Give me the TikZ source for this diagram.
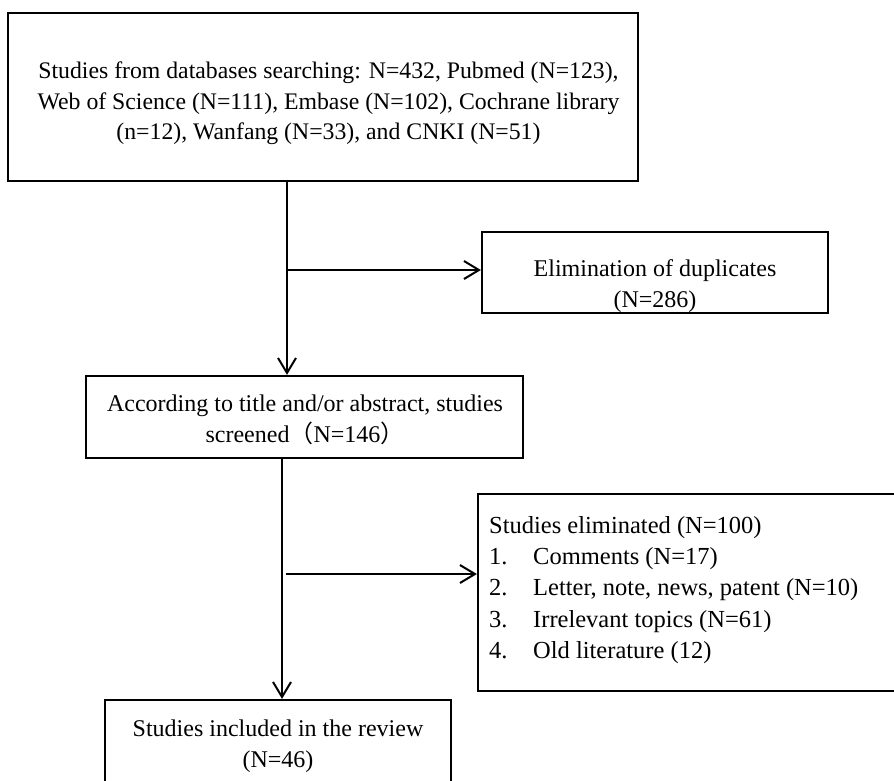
\documentclass[tikz,border=0pt]{standalone}
\usepackage{fontspec}
\setmainfont{Liberation Serif}
\newfontfamily\cjk{Noto Sans CJK SC}
\usetikzlibrary{arrows.meta}
\begin{document}
\begin{tikzpicture}[x=1pt,y=-1pt,
  boxst/.style={draw,line width=2.2pt,inner sep=0pt,minimum width=#1},
  txt/.style={inner sep=0pt,font=\fontsize{24}{30.6}\selectfont},
  arr/.style={line width=2pt,-{Straight Barb[length=15pt,width=18pt,line width=2pt]}},
  ln/.style={line width=2pt}]
\useasboundingbox[fill=white] (0,0) rectangle (894,780);
% boxes
\node[boxst=630pt,minimum height=168pt] (b1) at (323,97) {};
\node[boxst=346pt,minimum height=81pt] (elim) at (655,272.5) {};
\node[boxst=437pt,minimum height=82pt] (b2) at (304.5,417) {};
\node[boxst=418pt,minimum height=197pt] (elimd) at (687,592.5) {};
\node[boxst=346pt,minimum height=95pt] (b3) at (278,747.5) {};
% texts
\node[txt,align=center,font=\fontsize{23.75}{30.5}\selectfont] (t1) at (328.5,103.5) {Studies from databases searching: N=432, Pubmed (N=123),\\Web of Science (N=111), Embase (N=102), Cochrane library\\(n=12), Wanfang (N=33), and CNKI (N=51)};
\node[txt,align=center] (t2) at (655,286) {Elimination of duplicates\\(N=286)};
\node[txt,align=center] (t3) at (305,420) {According to title and/or abstract, studies\\screened{\cjk （}N=146{\cjk ）}};
\node[txt,align=left,anchor=west,font=\fontsize{24.5}{31.3}\selectfont] (t4) at (489,590) {Studies eliminated (N=100)\\
\makebox[44pt][l]{1.}Comments (N=17)\\
\makebox[44pt][l]{2.}Letter, note, news, patent (N=10)\\
\makebox[44pt][l]{3.}Irrelevant topics (N=61)\\
\makebox[44pt][l]{4.}Old literature (12)};
\node[txt,align=center] (t5) at (278,746) {Studies included in the review\\(N=46)};
% connectors
\coordinate (j1) at (287,270);
\coordinate (j2) at (282,574);
\draw[arr] (j1 |- b1.south) -- (j1 |- b2.north);
\draw[arr] (j1) -- (j1 -| elim.west);
\draw[arr] (j2 |- b2.south) -- (j2 |- b3.north);
\draw[arr] ([xshift=4pt]j2) -- (j2 -| elimd.west);
\end{tikzpicture}
\end{document}
